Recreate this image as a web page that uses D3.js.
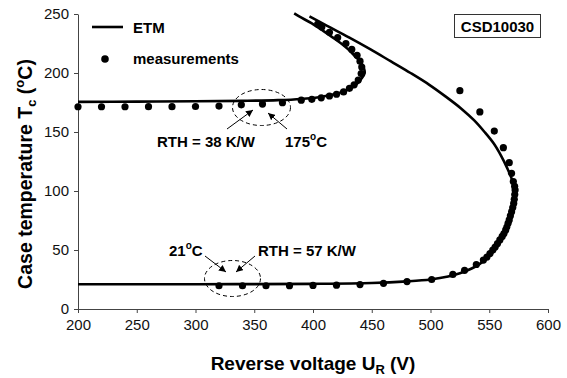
<!DOCTYPE html>
<html>
<head>
<meta charset="utf-8">
<script src="https://cdn.jsdelivr.net/npm/d3@7"></script>
<style>
  html, body { margin: 0; padding: 0; background: #fff; }
  svg { display: block; font-family: "Liberation Sans", Arial, sans-serif; }
</style>
</head>
<body>
<svg id="chart" width="567" height="378"></svg>
<script>
// ---- data (Reverse voltage V, case temperature °C) ----
const xTicks = [200, 250, 300, 350, 400, 450, 500, 550, 600];
const yTicks = [0, 50, 100, 150, 200, 250];

// ETM curve, RTH = 57 K/W (Tamb = 21 °C)
const etm57 = [[200,21],[300,21],[400,21.3],[450,22],[480,23.4],[500,25],[515,27.5],[525,30.3],[535,34.3],[542,38.3],[548,43],[553,48],[557,53],[560.5,58],[563.5,63.5],[566,69],[568,75],[569.8,82],[571,89],[571.6,95],[571.5,100],[569.2,110],[565,120],[560,130],[554,140],[546,150],[537,160],[526,170],[513,180],[499,190],[483,200],[466,210],[449,220],[431,230],[412,240],[397,248]];
// ETM curve, RTH = 38 K/W (Tamb = 175 °C)
const etm38 = [[200,175.5],[250,175.7],[300,176],[340,176.4],[370,177],[390,178],[405,179.5],[416,181.5],[425,184],[432,187],[437,190.5],[441,195],[444,200],[443,205],[440,210],[436,214],[430,220],[424,225],[417,230],[409,235.5],[399,242],[389,247.5],[384,250.5]];
// measurements, lower branch
const meas57 = [[320,19.7],[340,19.7],[360,19.7],[380,19.8],[400,20],[420,20.2],[440,20.7],[460,21.8],[480,23.2],[501,25],[519,29.3],[529,32.8],[539,37.7],[545,41.5],[548,44],[550.6,47],[553,50],[555,52.5],[557,55.5],[559,58.5],[561,61.5],[562.5,64],[564,67],[565,69.5],[566,72.6],[567,75.5],[568,79],[569,82.5],[570,86],[570.8,89.5],[571.3,93],[571.7,97],[572,100.8],[571.6,104],[570.5,108],[569,115],[567,124],[562,136.7],[554.3,150.8],[542,167],[525,185]];
// measurements, upper branch
const meas38 = [[200,171.4],[220,171.4],[240,171.4],[260,171.5],[280,171.5],[300,171.6],[320,172],[339,173],[357,173.7],[374,174.8],[390,177],[399,177.7],[407,179],[414,180.5],[420,182],[426,184],[431,187],[435,190],[438.5,194],[441,199.5],[441.5,205],[440,210],[437.5,215],[433,220],[428,225],[421,230],[414,234.5],[407.5,239],[404,241.5]];

// ---- layout ----
const svg = d3.select("#chart");
const L = 78, R = 548, T = 14, B = 309;
const x = d3.scaleLinear().domain([200, 600]).range([L, R]);
const y = d3.scaleLinear().domain([0, 250]).range([B, T]);

const defs = svg.append("defs");
defs.append("marker").attr("id", "arr").attr("viewBox", "0 0 10 10")
  .attr("refX", 10).attr("refY", 5).attr("markerWidth", 7).attr("markerHeight", 7)
  .attr("markerUnits", "userSpaceOnUse").attr("orient", "auto")
  .append("path").attr("d", "M0,0 L10,5 L0,10 Z").attr("fill", "#000");

// axes
const xAxis = svg.append("g").attr("transform", `translate(0,${B})`)
  .call(d3.axisBottom(x).tickValues(xTicks).tickSize(4).tickPadding(6).tickSizeOuter(0));
const yAxis = svg.append("g").attr("transform", `translate(${L},0)`)
  .call(d3.axisLeft(y).tickValues(yTicks).tickSize(4).tickPadding(5).tickSizeOuter(0));
[xAxis, yAxis].forEach(g => {
  g.selectAll("path, line").attr("stroke", "#444").attr("stroke-width", 1);
  g.selectAll("text").attr("font-size", 15).attr("fill", "#111")
    .attr("font-family", "Liberation Sans, Arial, sans-serif");
});

// lines
const line = d3.line().x(d => x(d[0])).y(d => y(d[1])).curve(d3.curveCatmullRom.alpha(0.5));
[etm57, etm38].forEach(data => {
  svg.append("path").datum(data).attr("d", line)
    .attr("fill", "none").attr("stroke", "#000").attr("stroke-width", 2.6);
});

// measurement points
[meas57, meas38].forEach(data => {
  svg.append("g").selectAll("circle").data(data).join("circle")
    .attr("cx", d => x(d[0])).attr("cy", d => y(d[1])).attr("r", 3.6).attr("fill", "#000");
});

// legend
svg.append("line").attr("x1", 92).attr("x2", 123).attr("y1", 27).attr("y2", 27)
  .attr("stroke", "#000").attr("stroke-width", 2.6);
svg.append("text").attr("x", 133).attr("y", 33).attr("font-size", 15).attr("font-weight", "bold").text("ETM");
svg.append("circle").attr("cx", 105).attr("cy", 59).attr("r", 3.8).attr("fill", "#000");
svg.append("text").attr("x", 133).attr("y", 64).attr("font-size", 15).attr("font-weight", "bold").text("measurements");

// device label box
svg.append("rect").attr("x", 454.5).attr("y", 14.5).attr("width", 86).attr("height", 23)
  .attr("fill", "#fff").attr("stroke", "#333").attr("stroke-width", 1);
svg.append("text").attr("x", 497.5).attr("y", 31.5).attr("text-anchor", "middle")
  .attr("font-size", 15).attr("font-weight", "bold").text("CSD10030");

// annotations: dashed ellipses
svg.append("ellipse").attr("cx", 261.5).attr("cy", 107.5).attr("rx", 29).attr("ry", 18)
  .attr("fill", "none").attr("stroke", "#000").attr("stroke-width", 1).attr("stroke-dasharray", "4,3");
svg.append("ellipse").attr("cx", 232.5).attr("cy", 278.5).attr("rx", 28).attr("ry", 18)
  .attr("fill", "none").attr("stroke", "#000").attr("stroke-width", 1).attr("stroke-dasharray", "4,3");

// arrows
const arrows = [[227,129,253,110],[287,129,268,113],[205,256,226,272],[255,256,236,272]];
arrows.forEach(a => {
  svg.append("line").attr("x1", a[0]).attr("y1", a[1]).attr("x2", a[2]).attr("y2", a[3])
    .attr("stroke", "#000").attr("stroke-width", 1).attr("marker-end", "url(#arr)");
});

// annotation texts
function degText(xp, yp, num) {
  const t = svg.append("text").attr("x", xp).attr("y", yp).attr("font-size", 15).attr("font-weight", "bold");
  t.append("tspan").text(num);
  t.append("tspan").attr("font-size", 10).attr("dy", -7).text("o");
  t.append("tspan").attr("dy", 7).text("C");
}
svg.append("text").attr("x", 157).attr("y", 147).attr("font-size", 15).attr("font-weight", "bold").text("RTH = 38 K/W");
degText(285, 147, "175");
degText(169, 256, "21");
svg.append("text").attr("x", 258).attr("y", 256).attr("font-size", 15).attr("font-weight", "bold").text("RTH = 57 K/W");

// axis titles
const xt = svg.append("text").attr("x", 313).attr("y", 370).attr("text-anchor", "middle")
  .attr("font-size", 19).attr("font-weight", "bold");
xt.append("tspan").text("Reverse voltage U");
xt.append("tspan").attr("font-size", 13).attr("dy", 4).text("R");
xt.append("tspan").attr("dy", -4).text(" (V)");

const yt = svg.append("text").attr("transform", "translate(32,174) rotate(-90)").attr("text-anchor", "middle")
  .attr("font-size", 19.5).attr("font-weight", "bold");
yt.append("tspan").text("Case temperature T");
yt.append("tspan").attr("font-size", 13).attr("dy", 4).text("c");
yt.append("tspan").attr("dy", -4).text(" (");
yt.append("tspan").attr("font-size", 13).attr("dy", -8).text("o");
yt.append("tspan").attr("dy", 8).text("C)");
</script>
</body>
</html>
